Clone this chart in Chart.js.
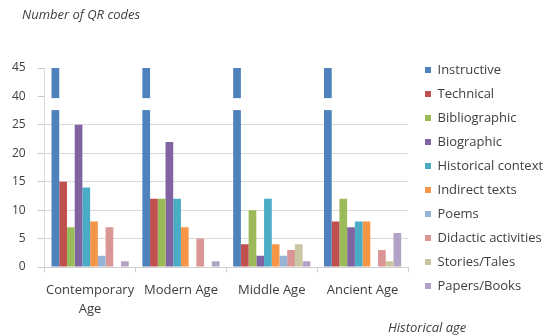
<!DOCTYPE html>
<html>
<head>
<meta charset="utf-8">
<script src="https://cdn.jsdelivr.net/npm/chart.js@4.4.1/dist/chart.umd.min.js"></script>
<style>
  html, body { margin: 0; padding: 0; background: #fff; }
  #wrap { width: 557px; height: 336px; }
</style>
</head>
<body>
<div id="wrap"><canvas id="qrChart"></canvas></div>
<script>
// Categorias (eje x)
const categories = [['Contemporary', 'Age'], 'Modern Age', 'Middle Age', 'Ancient Age'];

// Valores por tipo de código QR
const instructive = [45, 45, 45, 45];
const technical = [15, 12, 4, 8];
const bibliographic = [7, 12, 10, 12];
const biographic = [25, 22, 2, 7];
const historicalContext = [14, 12, 12, 8];
const indirectTexts = [8, 7, 4, 8];
const poems = [2, 0, 2, 0];
const didacticActivities = [7, 5, 3, 3];
const storiesTales = [0, 0, 4, 1];
const papersBooks = [1, 1, 1, 6];

// Ticks del eje y (el eje está cortado entre 25 y 40)
const yTickLabels = [0, 5, 10, 15, 20, 25, 40, 45];
const breakFrom = 25;
const breakTo = 40;

const seriesNames = ['Instructive', 'Technical', 'Bibliographic', 'Biographic', 'Historical context',
  'Indirect texts', 'Poems', 'Didactic activities', 'Stories/Tales', 'Papers/Books'];
const seriesValues = [instructive, technical, bibliographic, biographic, historicalContext,
  indirectTexts, poems, didacticActivities, storiesTales, papersBooks];
const seriesColors = ['#4f81bd', '#c0504d', '#9bbb59', '#8064a2', '#4bacc6',
  '#f79646', '#95b3d7', '#d99694', '#c8c7a2', '#b3a2c7'];

// pasa un valor real al eje comprimido
const skip = breakTo - breakFrom - 5;
const toAxis = v => (v >= breakTo ? v - skip : v);
const fromAxis = v => (v > breakFrom ? v + skip : v);

const FONT = "'Open Sans', sans-serif";
const TEXT = '#404040';
const PLOT_TOP = 68;
const PLOT_RIGHT = 408;
const LEGEND_GAP = 6; // separación extra entre el gráfico y la leyenda

// hueco blanco en las barras cortadas + títulos de ejes
const breakPlugin = {
  id: 'breakPlugin',
  afterLayout(chart) {
    chart.legend.left += LEGEND_GAP;
    chart.legend.right += LEGEND_GAP;
  },
  afterDatasetsDraw(chart) {
    const y = chart.scales.y;
    const ctx = chart.ctx;
    const top = y.getPixelForValue(breakFrom + 4.7);
    const bottom = y.getPixelForValue(breakFrom + 2.6);
    chart.getDatasetMeta(0).data.forEach(bar => {
      ctx.fillStyle = '#fff';
      ctx.fillRect(bar.x - bar.width / 2 - 1, top, bar.width + 2, bottom - top);
    });
  },
  afterDraw(chart) {
    const ctx = chart.ctx;
    ctx.save();
    ctx.fillStyle = TEXT;
    ctx.font = "italic 13px " + FONT;
    ctx.textBaseline = 'middle';
    ctx.textAlign = 'left';
    ctx.fillText('Number of QR codes', 22, 15);
    ctx.fillText('Historical age', chart.chartArea.right - 20, 328);
    ctx.restore();
  }
};

new Chart(document.getElementById('qrChart'), {
  type: 'bar',
  data: {
    labels: categories,
    datasets: seriesNames.map((name, i) => ({
      label: name,
      data: seriesValues[i].map(toAxis),
      backgroundColor: seriesColors[i],
      borderWidth: 0,
      barPercentage: 1,
      categoryPercentage: 0.85
    }))
  },
  options: {
    responsive: true,
    maintainAspectRatio: false,
    animation: false,
    layout: { padding: { top: 28, right: 1, bottom: 8, left: 0 } },
    plugins: {
      legend: {
        position: 'right',
        labels: {
          boxWidth: 6,
          boxHeight: 6,
          padding: 11,
          color: TEXT,
          font: { family: FONT, size: 13 }
        }
      },
      tooltip: { enabled: false }
    },
    scales: {
      x: {
        afterFit(scale) { scale.paddingRight = scale.chart.width - PLOT_RIGHT; },
        grid: { drawOnChartArea: false, tickLength: 5, tickColor: '#d0d0d0' },
        border: { color: '#d0d0d0' },
        ticks: {
          color: TEXT,
          padding: 9,
          autoSkip: false,
          maxRotation: 0,
          font: { family: FONT, size: 13, lineHeight: 1.46 }
        }
      },
      y: {
        min: 0,
        max: toAxis(45),
        afterFit(scale) { scale.paddingTop = PLOT_TOP; },
        afterBuildTicks(scale) {
          scale.ticks = yTickLabels.map(v => ({ value: toAxis(v) }));
        },
        grid: {
          color: ctx => (ctx.tick && ctx.tick.value > 0 && ctx.tick.value <= breakFrom ? '#d9d9d9' : 'transparent'),
          tickColor: '#c8c8c8',
          tickLength: 7
        },
        border: { color: '#d9d9d9' },
        ticks: {
          color: TEXT,
          padding: 12,
          font: { family: FONT, size: 12 },
          callback: v => fromAxis(v)
        }
      }
    }
  },
  plugins: [breakPlugin]
});
</script>
</body>
</html>
